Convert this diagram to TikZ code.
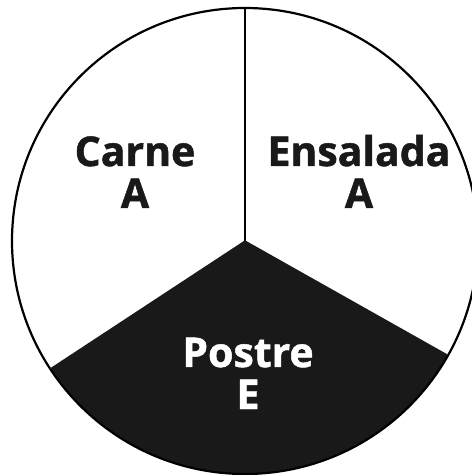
\documentclass[tikz,border=0pt]{standalone}
\usepackage{fontspec}
\setmainfont[BoldFeatures={FakeBold=1.2}]{Open Sans}
\begin{document}
\begin{tikzpicture}[x=1pt,y=1pt,
  lbl/.style={font=\bfseries\fontsize{41}{41}\selectfont, anchor=base, inner sep=0pt},
  rim/.style={line width=2.2pt, draw=black}]
\useasboundingbox (0,0) rectangle (472,475);
\clip (0,0) rectangle (472,475);
\coordinate (c) at (245,234);
\def\R{233}
\fill[fill=black!90] (c) -- ++(213.3:\R) arc[start angle=213.3, end angle=330.6, radius=\R] -- cycle;
\draw[rim] (c) circle[radius=\R];
\draw[line width=1.8pt] (c) -- ++(90:\R);
\draw[line width=1.2pt, draw=black!90] (c) -- ++(213.3:\R);
\draw[line width=1.2pt, draw=black!90] (c) -- ++(330.6:\R);
\node[lbl, text=black!90] (carne) at (135,309) {Carne};
\node[lbl, text=black!90] (carneA) at (135,267) {A};
\node[lbl, text=black!90] (ens) at (359,309) {Ensalada};
\node[lbl, text=black!90] (ensA) at (359,267) {A};
\node[lbl, text=white] (postre) at (248,108) {Postre};
\node[lbl, text=white] (postreE) at (248,66) {E};
\end{tikzpicture}
\end{document}
